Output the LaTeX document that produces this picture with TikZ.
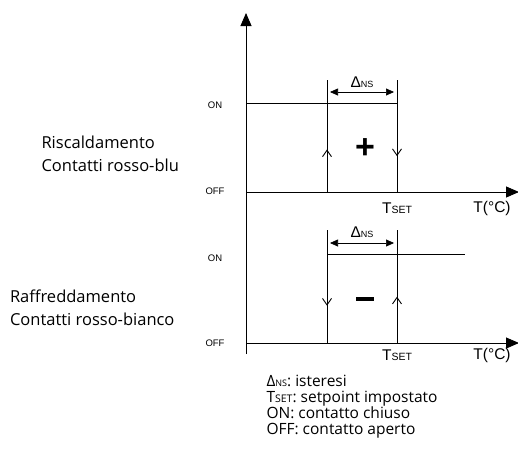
\documentclass[tikz,border=0pt]{standalone}
\usepackage{fontspec}
\setmainfont{Open Sans}
\newfontfamily\arialfont{Liberation Sans}
\usetikzlibrary{arrows.meta,decorations.markings}

\tikzset{
  axisline/.style={line width=0.9pt,-{Triangle[length=13pt,width=11pt]}},
  levelline/.style={line width=0.7pt},
  deltaline/.style={line width=0.7pt,{Triangle[length=8pt,width=7pt]}-{Triangle[length=8pt,width=7pt]}},
  barbat/.style={levelline,postaction={decorate},
    decoration={markings,mark=at position #1 with {\arrow{Straight Barb[length=6.5pt,width=9pt,line width=0.9pt]}}}},
  onoff/.style={font=\arialfont\fontsize{9.5}{11}\selectfont},
  axislabel/.style={font=\arialfont\fontsize{15.5}{17}\selectfont},
  modelabel/.style={anchor=west,align=left,font=\fontsize{16.5}{23}\selectfont},
}
\newcommand{\tset}{T{\fontsize{10.5}{11}\selectfont SET}}
\newcommand{\dns}{Δ{\fontsize{9}{10}\selectfont NS}}

\begin{document}
\begin{tikzpicture}[x=1pt,y=-1pt]
\useasboundingbox (0,0) rectangle (518,458);

%%% AXES %%%
\coordinate (top) at (246,13);
\coordinate (bottom) at (246,354);
\coordinate (o1) at (246,192);
\coordinate (end1) at (519,192);
\coordinate (o2) at (246,343);
\coordinate (end2) at (519,343);
\draw[axisline] (bottom) -- (top);
\draw[axisline] (o1) -- (end1);
\draw[axisline] (o2) -- (end2);

%%% RISCALDAMENTO %%%
\coordinate (a1) at (327,80);
\coordinate (a2) at (327,192);
\coordinate (b1) at (397,80);
\coordinate (b2) at (397,192);
\coordinate (on1) at (246,103);
\coordinate (on1r) at (397,103);
\draw[levelline] (on1) -- (on1r);
\draw[barbat=0.38] (a2) -- (a1);
\draw[barbat=0.68] (b1) -- (b2);
\draw[deltaline] (330,92) coordinate (d1) -- (394,92) coordinate (d1r);
\node[font=\arialfont\fontsize{15.5}{17}\selectfont] (delta1) at (362,82) {\dns};
\node[font=\arialfont\bfseries\fontsize{34}{34}\selectfont] (plus) at (365,149) {+};

%%% RAFFREDDAMENTO %%%
\coordinate (c1) at (327,230);
\coordinate (c2) at (327,343);
\coordinate (e1) at (397,230);
\coordinate (e2) at (397,343);
\coordinate (on2) at (327,254);
\coordinate (on2r) at (465,254);
\draw[levelline] (on2) -- (on2r);
\draw[barbat=0.67] (c1) -- (c2);
\draw[barbat=0.41] (e2) -- (e1);
\draw[deltaline] (330,243) coordinate (d2) -- (394,243) coordinate (d2r);
\node[font=\arialfont\fontsize{15.5}{17}\selectfont] (delta2) at (362,232) {\dns};
\node[fill,inner sep=0pt,minimum width=18pt,minimum height=4.5pt] (minus) at (365,299) {};

%%% LABELS %%%
\node[onoff] (lon1) at (215,105) {ON};
\node[onoff] (loff1) at (215,191) {OFF};
\node[onoff] (lon2) at (215,258) {ON};
\node[onoff] (loff2) at (215,343) {OFF};
\node[axislabel] (ts1) at (397,208) {\tset};
\node[axislabel] (tc1) at (492,208) {T(°C)};
\node[axislabel] (ts2) at (397,355) {\tset};
\node[axislabel] (tc2) at (492,355) {T(°C)};
\node[modelabel] (heat) at (38,154) {Riscaldamento\\Contatti rosso-blu};
\node[modelabel] (cool) at (6.5,308) {Raffreddamento\\Contatti rosso-bianco};

%%% LEGENDA %%%
\node[anchor=west,align=left,font=\fontsize{15.5}{16}\selectfont] (legend) at (263,407) {%
\dns: isteresi\\
\tset: setpoint impostato\\
ON: contatto chiuso\\
OFF: contatto aperto};

\end{tikzpicture}
\end{document}
